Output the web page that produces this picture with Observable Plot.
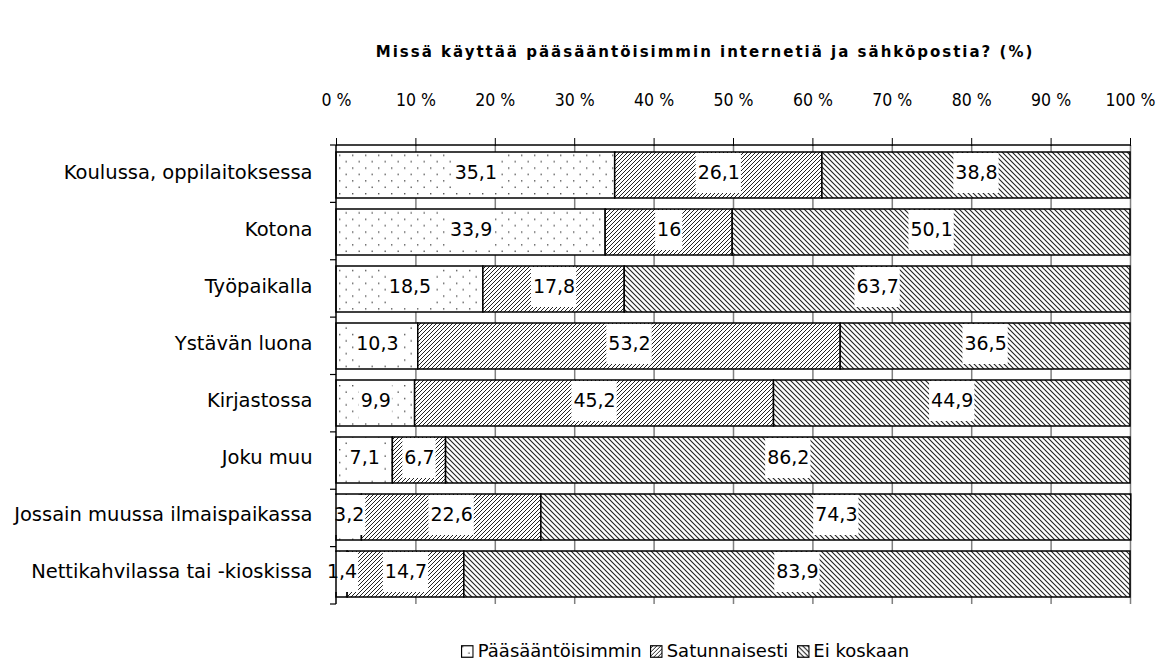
<!DOCTYPE html>
<html>
<head>
<meta charset="utf-8">
<script src="https://cdn.jsdelivr.net/npm/d3@7"></script>
<script src="https://cdn.jsdelivr.net/npm/@observablehq/plot@0.6"></script>
<style>
  body { margin: 0; background: white; font-family: "DejaVu Sans", sans-serif; }
  #wrap { position: relative; width: 1157px; height: 666px; overflow: hidden; }
  #title { position: absolute; top: 43px; left: 705px; transform: translateX(-50%); white-space: nowrap;
           font-weight: bold; font-size: 15px; letter-spacing: 2px; color: #000; }
  #legend { position: absolute; top: 640px; left: 685px; transform: translateX(-50%); white-space: nowrap;
            font-size: 18px; line-height: 22px; color: #000; display: flex; align-items: center; gap: 8px; }
  #legend span.item { display: inline-flex; align-items: center; gap: 4px; }
  #legend svg { display: block; }
</style>
</head>
<body>
<svg width="0" height="0" style="position:absolute">
  <defs>
    <pattern id="pDots" width="13" height="12.8" patternUnits="userSpaceOnUse">
      <rect width="13" height="12.8" fill="white"/>
      <rect x="1" y="1" width="1.4" height="1.4" fill="#555"/>
      <rect x="7.5" y="7.4" width="1.4" height="1.4" fill="#555"/>
    </pattern>
    <pattern id="pFwd" width="4" height="4" patternUnits="userSpaceOnUse">
      <rect width="4" height="4" fill="white"/>
      <path d="M-1,1 l2,-2 M0,4 l4,-4 M3,5 l2,-2" stroke="#222" stroke-width="1"/>
    </pattern>
    <pattern id="pBack" width="5" height="5" patternUnits="userSpaceOnUse">
      <rect width="5" height="5" fill="white"/>
      <path d="M-1,4 l2,2 M0,0 l5,5 M4,-1 l2,2" stroke="#222" stroke-width="1.1"/>
    </pattern>
  </defs>
</svg>
<div id="wrap">
  <div id="chart"></div>
  <div id="title">Missä käyttää pääsääntöisimmin internetiä ja sähköpostia? (%)</div>
  <div id="legend"></div>
</div>
<script>
const categories = [
  "Koulussa, oppilaitoksessa",
  "Kotona",
  "Työpaikalla",
  "Ystävän luona",
  "Kirjastossa",
  "Joku muu",
  "Jossain muussa ilmaispaikassa",
  "Nettikahvilassa tai -kioskissa"
];
const series = ["Pääsääntöisimmin", "Satunnaisesti", "Ei koskaan"];
const paasaantoisimmin = [35.1, 33.9, 18.5, 10.3, 9.9, 7.1, 3.2, 1.4];
const satunnaisesti    = [26.1, 16.0, 17.8, 53.2, 45.2, 6.7, 22.6, 14.7];
const eiKoskaan        = [38.8, 50.1, 63.7, 36.5, 44.9, 86.2, 74.3, 83.9];
const xTicks = [0, 10, 20, 30, 40, 50, 60, 70, 80, 90, 100];
const patterns = ["url(#pDots)", "url(#pFwd)", "url(#pBack)"];

const seriesValues = [paasaantoisimmin, satunnaisesti, eiKoskaan];
const fmt = v => String(v).replace(".", ",");

const data = [];
categories.forEach((c, i) => {
  series.forEach((s, j) => data.push({cat: c, s, v: seriesValues[j][i]}));
});

// label background boxes (sized from measured text)
const LABEL_SIZE = 19;
const ctx = document.createElement("canvas").getContext("2d");
ctx.font = `${LABEL_SIZE}px 'DejaVu Sans'`;
const W = 1157, ML = 336, MR = 27;
const pxPerUnit = (W - ML - MR) / 100;
const boxes = [];
categories.forEach((c, i) => {
  let acc = 0;
  series.forEach((s, j) => {
    const v = seriesValues[j][i];
    const mid = acc + v / 2;
    const w = ctx.measureText(fmt(v)).width + 3;
    boxes.push({cat: c, x1: mid - w / 2 / pxPerUnit, x2: mid + w / 2 / pxPerUnit});
    acc += v;
  });
});

function frameLines(index, scales, values, dims) {
  const {marginTop: t, marginLeft: l, marginRight: r, marginBottom: b, width, height} = dims;
  const g = d3.create("svg:g").attr("stroke", "black").attr("fill", "none");
  g.append("line").attr("x1", l).attr("x2", width - r).attr("y1", t).attr("y2", t).attr("stroke-width", 1.5);
  g.append("line").attr("x1", l).attr("x2", l).attr("y1", t).attr("y2", height - b).attr("stroke-width", 1.5);
  const n = categories.length;
  const step = (height - t - b) / n;
  for (let k = 0; k <= n; k++) {
    const y = t + k * step;
    g.append("line").attr("x1", l - 6).attr("x2", l).attr("y1", y).attr("y2", y).attr("stroke-width", 1.2);
  }
  return g.node();
}

const chart = Plot.plot({
  width: W,
  height: 666,
  marginTop: 145,
  marginBottom: 62,
  marginLeft: ML,
  marginRight: MR,
  style: {fontFamily: "'DejaVu Sans', sans-serif", fontSize: "16px", background: "white", color: "black"},
  x: {domain: [0, 100], label: null},
  y: {domain: categories, paddingInner: 0.2, paddingOuter: 0.1, label: null},
  color: {domain: series, range: patterns},
  marks: [
    Plot.ruleX(xTicks.slice(1), {stroke: "#808080", strokeWidth: 1.5}),
    Plot.barX(data, Plot.stackX({x: "v", y: "cat", fill: "s", stroke: "black", strokeWidth: 1.5})),
    Plot.barX(boxes, {x1: "x1", x2: "x2", y: "cat", fill: "white", insetTop: 1, insetBottom: 5}),
    Plot.text(data, Plot.stackX({x: "v", y: "cat", text: d => fmt(d.v), fill: "black", fontSize: LABEL_SIZE, dy: -3})),
    Plot.axisX({anchor: "top", ticks: xTicks, tickFormat: d => d + " %", tickSize: 8, tickPadding: 32,
                fontSize: 17.5, fontFamily: "'DejaVu Sans Condensed', 'DejaVu Sans', sans-serif", label: null}),
    Plot.axisY({anchor: "left", tickSize: 0, tickPadding: 24, fontSize: 19.5, dy: -3, label: null}),
    frameLines
  ]
});
document.getElementById("chart").appendChild(chart);

// legend
const legend = document.getElementById("legend");
series.forEach((s, j) => {
  const item = document.createElement("span");
  item.className = "item";
  item.innerHTML = `<svg width="13" height="13"><rect x="0.75" y="0.75" width="11.5" height="11.5" fill="${patterns[j]}" stroke="black" stroke-width="1.2"/></svg><span>${s}</span>`;
  legend.appendChild(item);
});
</script>
</body>
</html>
